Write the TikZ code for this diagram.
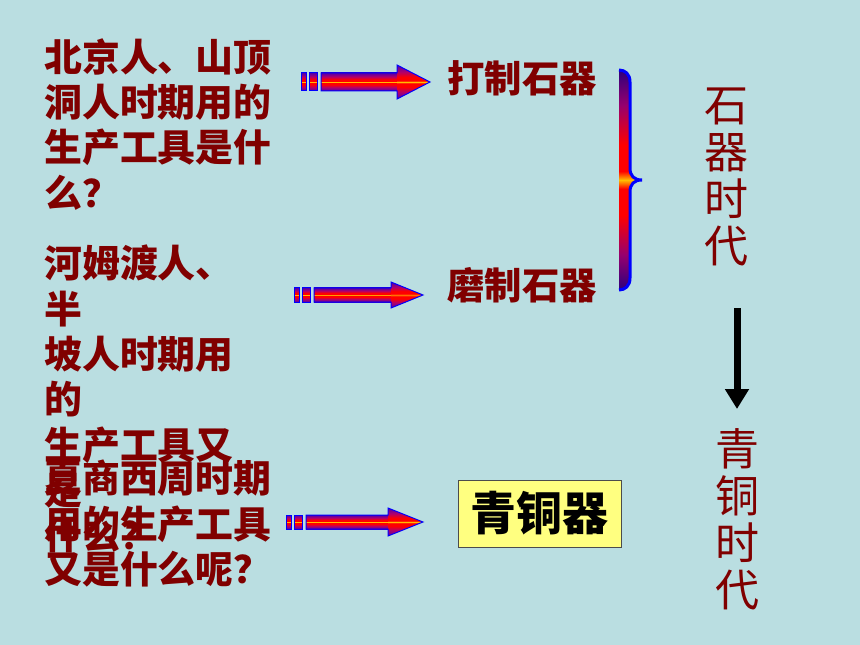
\documentclass[tikz,border=0pt]{standalone}
\usepackage{fontspec}
\newfontfamily\cjk{Noto Sans CJK SC}
\usetikzlibrary{positioning}
\usetikzlibrary{arrows.meta}

\definecolor{bgteal}{RGB}{186,222,225}
\definecolor{qred}{RGB}{128,0,0}
\definecolor{padyellow}{RGB}{255,255,128}
\definecolor{shadepurple}{RGB}{80,0,170}
\definecolor{shademagenta}{RGB}{175,0,110}
\definecolor{shadeorange}{RGB}{255,190,0}
\definecolor{bracedark}{RGB}{45,0,125}
\definecolor{bracemid}{RGB}{150,0,110}
\pgfdeclareverticalshading{arrowshade}{100bp}{color(0bp)=(shadepurple); color(25bp)=(shadepurple); color(35bp)=(shademagenta); color(43bp)=(red); color(48bp)=(red); color(50bp)=(shadeorange); color(52bp)=(red); color(57bp)=(red); color(65bp)=(shademagenta); color(75bp)=(shadepurple); color(100bp)=(shadepurple)}
\pgfdeclareverticalshading{braceshade}{100bp}{color(0bp)=(bracedark); color(25bp)=(bracedark); color(33bp)=(bracemid); color(42bp)=(red); color(48bp)=(red); color(50bp)=(shadeorange); color(52bp)=(red); color(58bp)=(red); color(67bp)=(bracemid); color(75bp)=(bracedark); color(100bp)=(bracedark)}

\tikzset{
  question/.style={anchor=north west,inner sep=0pt,align=left,text=qred,font=\cjk\bfseries\fontsize{28.4pt}{34pt}\selectfont},
  answer/.style={inner sep=0pt,text=qred,font=\cjk\bfseries\fontsize{28pt}{34pt}\selectfont},
  era/.style={anchor=north,inner sep=0pt,align=center,text=qred,font=\cjk\fontsize{33pt}{35.25pt}\selectfont},
  bronzebox/.style={draw=black!70,fill=padyellow,line width=0.75pt,minimum width=122.25pt,minimum height=50.25pt,font=\cjk\bfseries\fontsize{34.5pt}{40pt}\selectfont},
  fatpart/.style={draw=blue,line width=0.75pt,shading=arrowshade},
  downarrow/.style={line width=5.25pt,-{Triangle[width=17.25pt,length=15pt]}},
}

% striped block arrow: x0, y, head start, tip, half shaft, half head
\newcommand{\fatarrow}[6]{
\draw[fatpart] (#1,#2-#5) rectangle (#1+5,#2+#5);
\draw[fatpart] (#1+8,#2-#5) rectangle (#1+16,#2+#5);
\shade[shading=arrowshade] (#1+20,#2-#5) rectangle (#3,#2+#5);
\shade[shading=arrowshade] (#3,#2-#6) -- (#4,#2) -- (#3,#2+#6) -- cycle;
\draw[blue,line width=0.75pt] (#1+20,#2-#5) -- (#3,#2-#5) -- (#3,#2-#6) -- (#4,#2) -- (#3,#2+#6) -- (#3,#2+#5) -- (#1+20,#2+#5) -- cycle;
}

\begin{document}
\begin{tikzpicture}[x=0.75pt,y=-0.75pt]
\fill[bgteal] (0,0) rectangle (860,645);

% questions
\node[question] (q1) at (44,38) {北京人、山顶\\洞人时期用的\\生产工具是什\\么？};
\node[question] (q2) at (44,245) {河姆渡人、\\半\\坡人时期用\\的\\生产工具又\\是\\什么？};
\node[question] (q3) at (44,460) {夏商西周时期\\用的生产工具\\又是什么呢？};

% answers
\node[answer] (a1) at (522,78) {打制石器};
\node[answer] (a2) at (522,285) {磨制石器};
\node[bronzebox] (a3) at (539.5,513.5) {青铜器};

\fatarrow{301}{82}{397}{430}{9}{17}
\fatarrow{294}{295}{391}{423}{7}{13}
\fatarrow{286}{522}{388}{423}{7}{14}

% brace
\shade[shading=braceshade] (619,70) .. controls (625,70) and (630,74) .. (630,82) -- (630,168) .. controls (630,176) and (634,180) .. (642,180) .. controls (634,180) and (630,184) .. (630,192) -- (630,278) .. controls (630,286) and (625,290) .. (619,290) -- cycle;
\draw[blue,line width=2.25pt] (619,70) .. controls (625,70) and (630,74) .. (630,82) -- (630,168) .. controls (630,176) and (634,180) .. (642,180) .. controls (634,180) and (630,184) .. (630,192) -- (630,278) .. controls (630,286) and (625,290) .. (619,290);

% eras
\node[era] (stone) at (726,88) {石\\器\\时\\代};
\node[era] (bronze) at (737,428) {青\\铜\\时\\代};
\draw[downarrow,shorten <=31pt,shorten >=14.25pt] (bronze.north |- stone.south) -- (bronze.north);

\end{tikzpicture}
\end{document}
